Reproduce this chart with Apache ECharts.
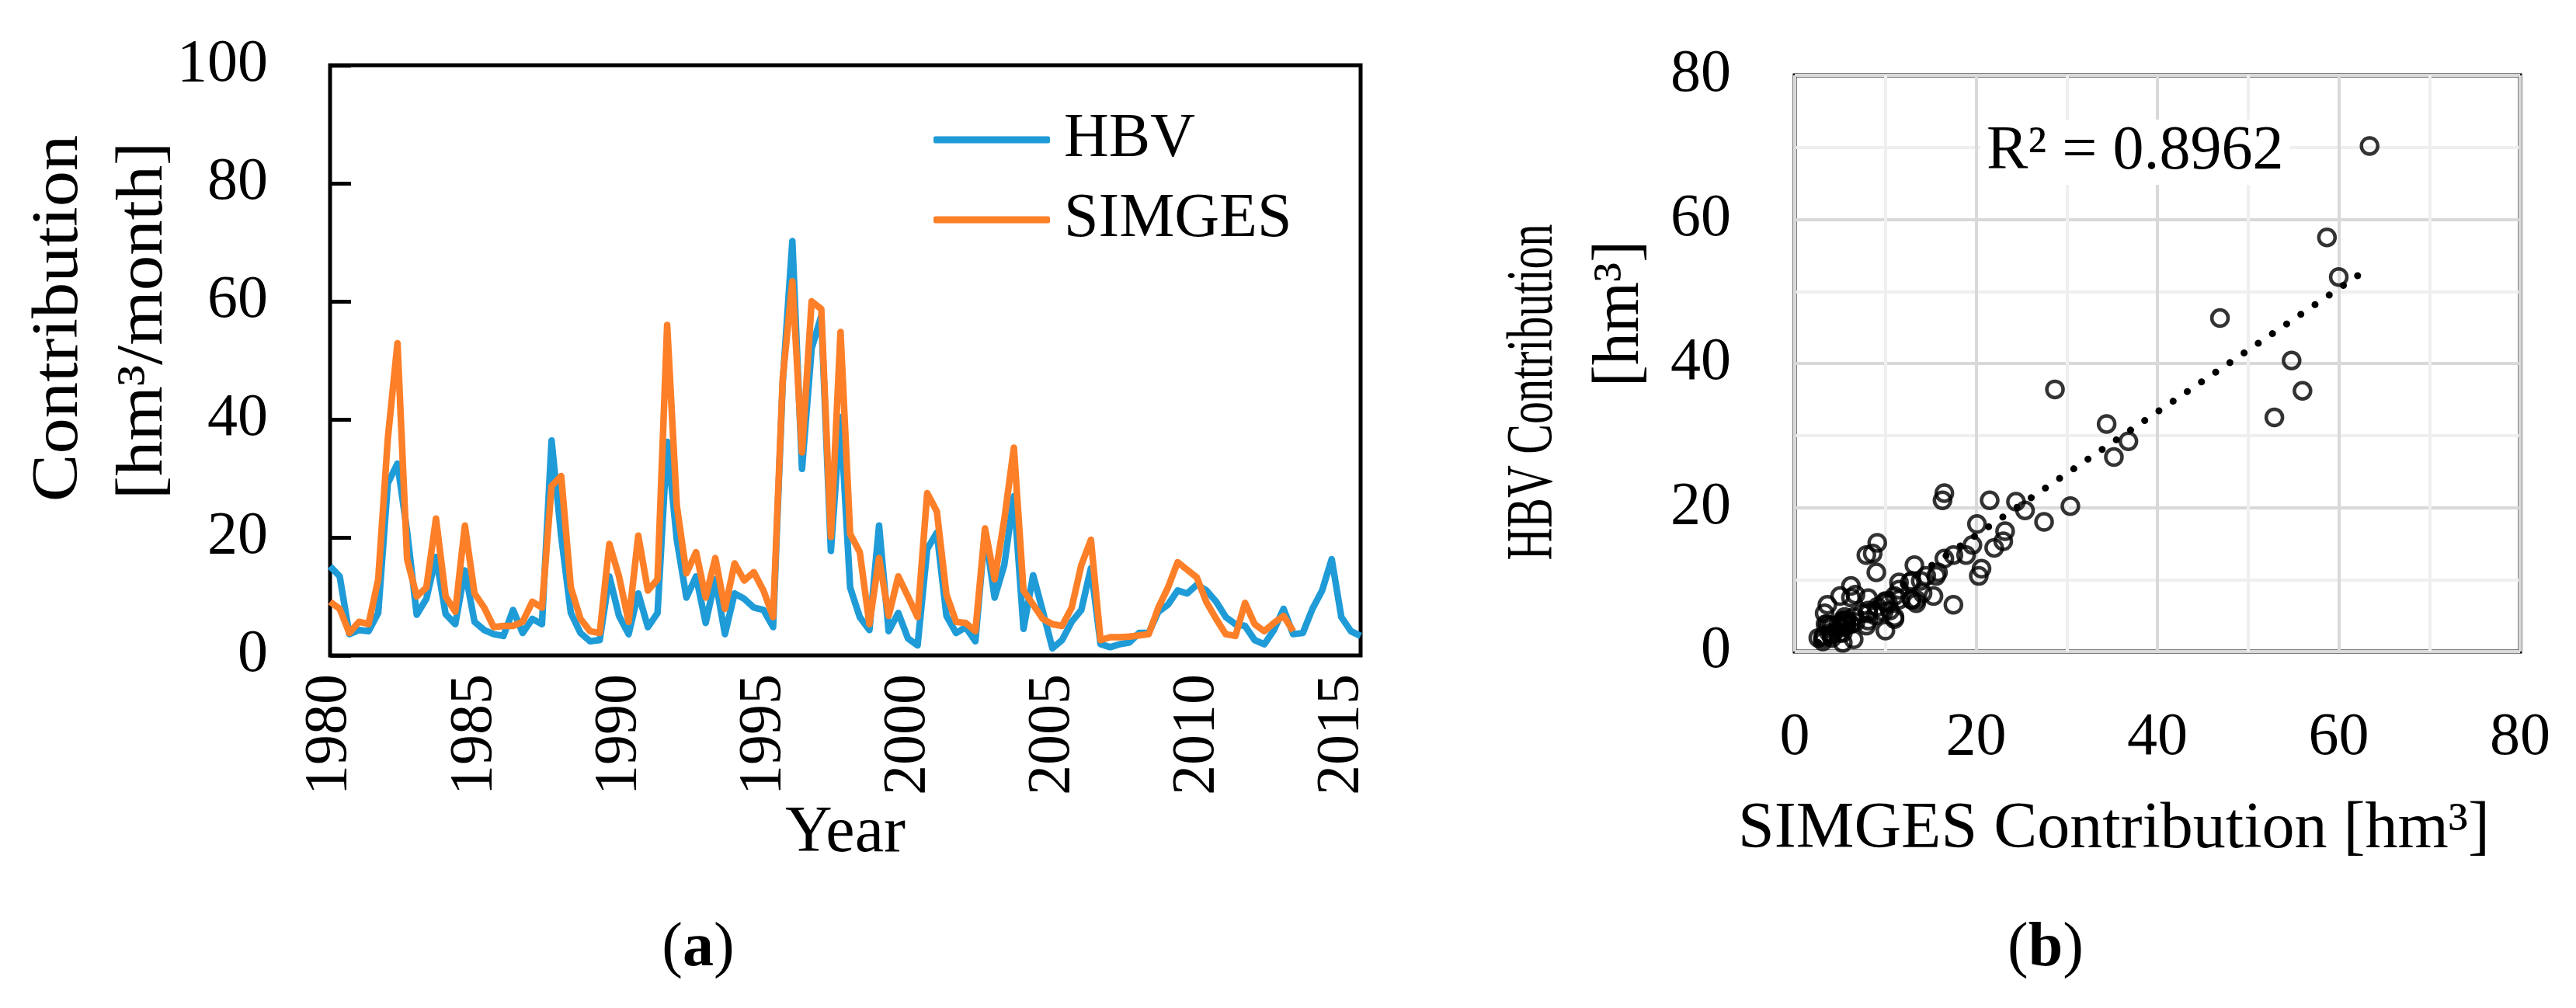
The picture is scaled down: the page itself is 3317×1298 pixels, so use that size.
<!DOCTYPE html>
<html>
<head>
<meta charset="utf-8">
<script src="https://cdn.jsdelivr.net/npm/echarts@6/dist/echarts.min.js"></script>
<style>
  html, body { margin: 0; padding: 0; background: #fff; }
  #chart { width: 3317px; height: 1298px; }
</style>
</head>
<body>
<div id="chart"></div>
<script>
// 每年三个点 (3 points per year), from 1980
const START_YEAR = 1980;
const STEPS_PER_YEAR = 3;
const YEAR_LABELS = [1980, 1985, 1990, 1995, 2000, 2005, 2010, 2015];

// HBV contribution [hm3/month]
const HBV = [
  15.1, 13.4, 3.6, 4.3, 4.1, 7.2, 29.2, 32.5, 21.0, 6.9,
  9.6, 16.7, 7.0, 5.3, 14.4, 5.7, 4.3, 3.6, 3.3, 7.7,
  3.8, 6.2, 5.3, 36.4, 20.2, 7.2, 3.8,
  2.4, 2.6, 13.4, 6.7, 3.6, 10.5, 4.8, 7.2, 36.2, 19.6,
  9.8, 13.4, 5.5, 12.9, 3.6, 10.5, 9.6, 8.1, 7.7, 4.8,
  46.3, 70.2, 31.6, 52.0, 57.5, 17.7, 40.4,
  11.5, 6.5, 4.3, 22.0, 4.1, 7.2, 2.9, 1.7, 18.0, 20.8,
  6.7, 3.8, 4.8, 2.4, 21.0, 9.8, 15.3, 27.0, 4.5, 13.6,
  7.5, 1.2, 2.6, 5.7, 7.7, 14.8, 1.9,
  1.4, 1.9, 2.2, 3.8, 3.8, 7.4, 8.6, 11.0, 10.5, 12.0,
  11.0, 9.1, 6.5, 5.3, 5.0, 2.6, 1.9, 4.3, 7.9, 3.6,
  3.8, 7.9, 11.0, 16.3, 6.5, 4.1, 3.3
];

// SIMGES contribution [hm3/month] (ends 2013)
const SIMGES = [
  9.1, 7.9, 3.8, 5.7, 5.3, 12.9, 36.8, 52.9, 16.3, 10.0,
  11.5, 23.2, 10.0, 7.4, 22.0, 10.5, 8.1, 4.8, 5.0, 5.0,
  5.7, 9.1, 8.1, 28.7, 30.4, 11.5, 6.2,
  4.1, 3.8, 18.9, 13.4, 5.7, 20.3, 11.0, 12.9, 56.0, 25.4,
  13.9, 17.5, 9.8, 16.5, 7.9, 15.6, 12.7, 14.1, 11.0, 6.5,
  46.9, 63.4, 34.4, 60.0, 58.7, 20.1, 54.8,
  20.6, 17.5, 5.3, 16.5, 6.7, 13.4, 10.0, 6.5, 27.5, 24.4,
  10.3, 5.7, 5.5, 4.1, 21.5, 12.9, 23.0, 35.2, 11.0, 8.6,
  6.2, 5.3, 5.0, 8.1, 15.3, 19.6, 2.6,
  3.1, 3.1, 3.2, 3.4, 3.6, 8.1, 11.5, 15.8, 14.5, 13.2,
  9.0, 6.2, 3.6, 3.3, 8.9, 5.3, 4.1, 5.5, 6.7, 4.1
];

const R2_TEXT = 'R² = 0.8962';

const FONT = 'Liberation Serif';
const BLUE = '#1f9bd7';
const ORANGE = '#fd7f28';

function toSeries(values) {
  return values.map((v, i) => [START_YEAR + i / STEPS_PER_YEAR, v]);
}

// 散点: SIMGES (x) 对 HBV (y), same periods
const pairs = SIMGES.map((s, i) => [s, HBV[i]]);

// linear trend (least squares)
function trendLine(pts) {
  const n = pts.length;
  let sx = 0, sy = 0, sxx = 0, sxy = 0;
  pts.forEach(([x, y]) => { sx += x; sy += y; sxx += x * x; sxy += x * y; });
  const slope = (n * sxy - sx * sy) / (n * sxx - sx * sx);
  const icpt = (sy - slope * sx) / n;
  const xs = pts.map(p => p[0]);
  const x0 = Math.min(...xs), x1 = Math.max(...xs);
  return [[x0, slope * x0 + icpt], [x1, slope * x1 + icpt]];
}

const chart = echarts.init(document.getElementById('chart'));

const labelStyle = { fontFamily: FONT, fontSize: 78, color: '#000' };
const nameStyle = { fontFamily: FONT, fontSize: 84, color: '#000' };

function panelTag(letter) {
  return {
    text: '{n|(}{b|' + letter + '}{n|)}', align: 'center', verticalAlign: 'middle',
    rich: {
      n: { fontFamily: FONT, fontSize: 80, fill: '#000' },
      b: { fontFamily: FONT, fontSize: 80, fontWeight: 'bold', fill: '#000' }
    }
  };
}

// 竖排的轴标题 (rotated axis title line)
function vTitle(text, x, y, stretch) {
  return {
    type: 'text', x: x, y: y, rotation: Math.PI / 2, scaleX: stretch,
    style: { text: text, fontFamily: FONT, fontSize: 84, fill: '#000', align: 'center', verticalAlign: 'middle' }
  };
}

chart.setOption({
  animation: false,
  backgroundColor: '#fff',
  textStyle: { fontFamily: FONT, color: '#000' },
  grid: [
    { left: 425, top: 84, width: 1327, height: 760, show: true, borderColor: '#000', borderWidth: 5 },
    { left: 2311, top: 97, width: 934, height: 742, show: true, borderColor: '#000', borderWidth: 5 }
  ],
  legend: {
    data: ['HBV', 'SIMGES'],
    orient: 'vertical',
    left: 1197,
    top: 135,
    icon: 'roundRect',
    itemWidth: 150,
    itemHeight: 9,
    itemGap: 23,
    textStyle: { fontFamily: FONT, fontSize: 80, lineHeight: 80, color: '#000', padding: [0, 0, 0, 13] }
  },
  xAxis: [
    {
      gridIndex: 0,
      type: 'value',
      min: START_YEAR,
      max: START_YEAR + (HBV.length - 1) / STEPS_PER_YEAR,
      interval: 5,
      axisLine: { show: false },
      axisTick: { show: false },
      splitLine: { show: false },
      axisLabel: Object.assign({
        rotate: 90,
        margin: 24,
        formatter: v => (YEAR_LABELS.includes(v) ? String(v) : '')
      }, labelStyle),
      name: 'Year',
      nameLocation: 'middle',
      nameGap: 185,
      nameTextStyle: nameStyle
    },
    {
      gridIndex: 1,
      type: 'value',
      min: 0,
      max: 80,
      interval: 20,
      axisLine: { show: false },
      axisTick: { show: false },
      splitLine: { show: true, lineStyle: { color: '#d9d9d9', width: 4 } },
      minorTick: { show: false, splitNumber: 2 },
      minorSplitLine: { show: true, lineStyle: { color: '#efefef', width: 4 } },
      axisLabel: Object.assign({ margin: 73 }, labelStyle),
      name: 'SIMGES Contribution [hm³]',
      nameLocation: 'middle',
      nameGap: 188,
      nameTextStyle: Object.assign({ padding: [0, 112, 0, 0] }, nameStyle)
    }
  ],
  yAxis: [
    {
      gridIndex: 0,
      type: 'value',
      min: 0,
      max: 100,
      interval: 20,
      axisLine: { show: false },
      axisTick: { show: true, inside: true, length: 27, lineStyle: { color: '#000', width: 5 } },
      splitLine: { show: false },
      axisLabel: Object.assign({ margin: 80 }, labelStyle)
    },
    {
      gridIndex: 1,
      type: 'value',
      min: 0,
      max: 80,
      interval: 20,
      axisLine: { show: false },
      axisTick: { show: false },
      splitLine: { show: true, lineStyle: { color: '#d9d9d9', width: 4 } },
      minorTick: { show: false, splitNumber: 2 },
      minorSplitLine: { show: true, lineStyle: { color: '#efefef', width: 4 } },
      axisLabel: Object.assign({ margin: 82 }, labelStyle)
    }
  ],
  series: [
    {
      name: 'HBV',
      type: 'line',
      xAxisIndex: 0,
      yAxisIndex: 0,
      data: toSeries(HBV),
      symbol: 'none',
      showSymbol: false,
      itemStyle: { color: BLUE },
      lineStyle: { color: BLUE, width: 8.5, join: 'round' }
    },
    {
      name: 'SIMGES',
      type: 'line',
      xAxisIndex: 0,
      yAxisIndex: 0,
      data: toSeries(SIMGES),
      symbol: 'none',
      showSymbol: false,
      itemStyle: { color: ORANGE },
      lineStyle: { color: ORANGE, width: 8.5, join: 'round' }
    },
    {
      name: 'pairs',
      type: 'scatter',
      xAxisIndex: 1,
      yAxisIndex: 1,
      data: pairs,
      symbol: 'circle',
      symbolSize: 21,
      itemStyle: { color: 'rgba(0,0,0,0)', borderColor: '#000', borderWidth: 4.5 }
    },
    {
      name: 'trend',
      type: 'line',
      xAxisIndex: 1,
      yAxisIndex: 1,
      data: trendLine(pairs),
      symbol: 'none',
      lineStyle: { color: '#000', width: 9, type: [0.1, 22], cap: 'round' },
      z: 5
    }
  ],
  graphic: [
    vTitle('Contribution', 77, 410, 1.1),
    vTitle('[hm³/month]', 186, 413, 1.08),
    vTitle('HBV Contribution', 1976, 505, 0.69),
    vTitle('[hm³]', 2087, 404, 1),
    {
      type: 'text', x: 2550, y: 196, z: 100,
      style: {
        text: R2_TEXT, fontFamily: FONT, fontSize: 80, fill: '#000',
        align: 'left', verticalAlign: 'middle',
        backgroundColor: '#fff', padding: [2, 8, 2, 8]
      }
    },
    { type: 'text', x: 899, y: 1222, style: panelTag('a') },
    { type: 'text', x: 2634, y: 1222, style: panelTag('b') }
  ]
});
</script>
</body>
</html>
